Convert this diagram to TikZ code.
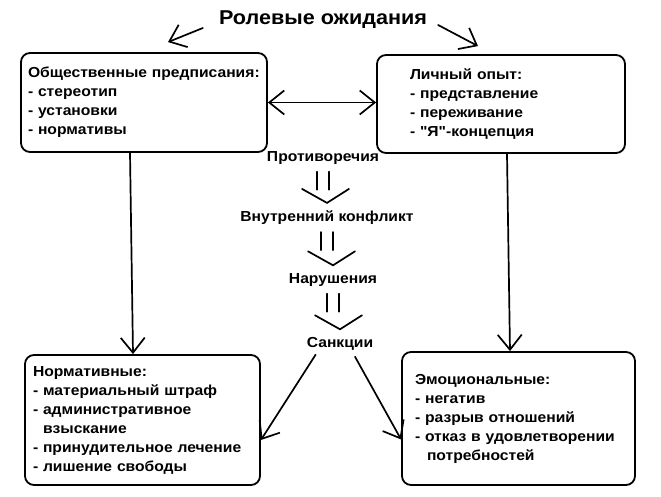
\documentclass[tikz,border=0pt]{standalone}
\usepackage{fontspec}
\setmainfont{Liberation Sans}[FakeStretch=1.08,Ligatures=TeXOff]
\usetikzlibrary{arrows.meta,calc}

\tikzset{
  caja/.style={draw, line width=1.8pt, rounded corners=9pt, align=left,
    font=\fontsize{14.5}{19}\selectfont\bfseries},
  etiqueta/.style={inner sep=1pt, font=\fontsize{14.5}{16}\selectfont\bfseries},
  punta/.tip={Straight Barb[length=15pt,width=24pt,line width=1.7pt]},
  flecha/.style={line width=1.7pt, line cap=round, -punta},
  doble/.style={line width=1.7pt, line cap=round}
}

% flecha doble entre dos etiquetas
\newcommand{\dobleflecha}[2]{%
  \draw[doble] ($(#1.south)+(-6,6)$) -- ++(0,18);
  \draw[doble] ($(#1.south)+(6,6)$) -- ++(0,18);
  \draw[doble] ($(#2.north)+(-25,-21)$) -- ($(#2.north)+(0,-7)$) -- ($(#2.north)+(22,-21)$);
}

\begin{document}
\begin{tikzpicture}[x=1pt,y=-1pt]
	\useasboundingbox (0,0) rectangle (661,497);

	% Titulo
	\node[inner sep=1pt, font=\fontsize{20}{22}\selectfont\bfseries] (titulo) at (323,20) {Ролевые ожидания};

	% Cajas de arriba
	\node[caja, minimum width=246pt, minimum height=99pt, inner xsep=7pt, text width=232pt] (social) at (144,102.5)
	  {Общественные предписания:\\- стереотип\\- установки\\- нормативы};
	\node[caja, minimum width=248pt, minimum height=98pt, inner xsep=33pt, text width=182pt] (personal) at (501,104)
	  {Личный опыт:\\- представление\\- переживание\\- "Я"-концепция};

	% Cajas de abajo
	\node[caja, minimum width=235pt, minimum height=130pt, inner xsep=8pt, text width=219pt] (normativas) at (142.5,420)
	  {Нормативные:\\- материальный штраф\\- административное\\\hspace*{10pt}взыскание\\- принудительное лечение\\- лишение свободы};
	\node[caja, minimum width=233pt, minimum height=133pt, inner xsep=13pt, text width=207pt] (emocionales) at (518.5,418.5)
	  {Эмоциональные:\\- негатив\\- разрыв отношений\\- отказ в удовлетворении\\\hspace*{12pt}потребностей\\[14pt]};

	% Etiquetas del centro
	\node[etiqueta] (contra) at (323,158) {Противоречия};
	\node[etiqueta] (conflicto) at (327,218) {Внутренний конфликт};
	\node[etiqueta] (violacion) at (333,280) {Нарушения};
	\node[etiqueta] (sancion) at (340,344) {Санкции};

	% Flechas del titulo
	\draw[flecha] ([shift={(-15,8)}]titulo.west) -- ([shift={(24,-10)}]social.north);
	\draw[flecha] ([shift={(10,5)}]titulo.east) -- ([shift={(-23,-8)}]personal.north);

	% Flecha entre cajas
	\draw[flecha, punta-punta] (social.east) -- (social.east -| personal.west);

	% Flechas verticales
	\draw[flecha] ([xshift=-14]social.south) -- ([xshift=-9.5]normativas.north);
	\draw[flecha] ([xshift=6]personal.south) -- ([xshift=-8.5]emocionales.north);

	% Cadena del centro
	\dobleflecha{contra}{conflicto}
	\dobleflecha{conflicto}{violacion}
	\dobleflecha{violacion}{sancion}

	% Flechas de sanciones
	\draw[flecha] ([shift={(10,3)}]sancion.south west) -- ([yshift=-20]normativas.east);
	\draw[flecha] ([shift={(15,5)}]sancion.south) -- ([yshift=-21]emocionales.west);
\end{tikzpicture}
\end{document}
